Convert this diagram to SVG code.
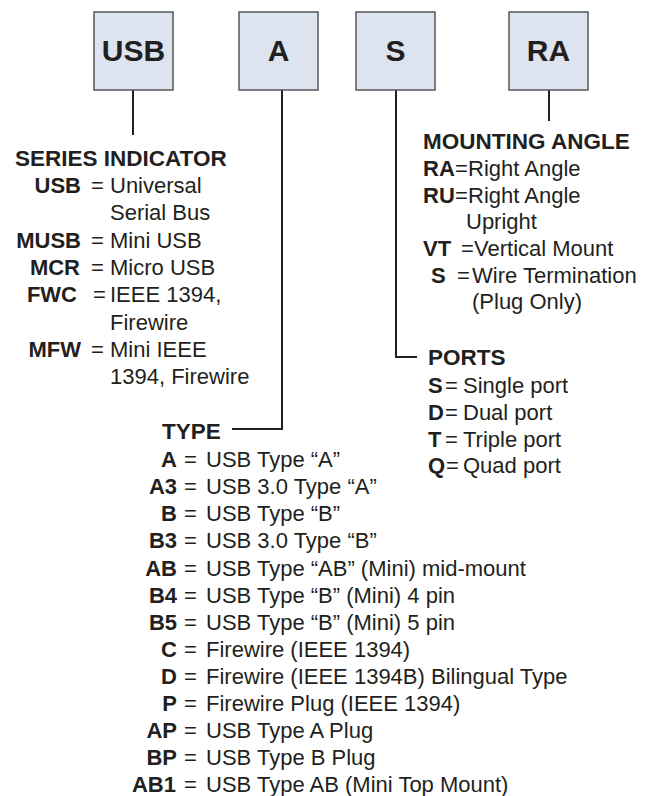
<svg xmlns="http://www.w3.org/2000/svg" width="658" height="796" viewBox="0 0 658 796">
<style>
.box{fill:#dde4ef;stroke:#555759;stroke-width:1.5}
.bt{font-family:'Liberation Sans',Arial,sans-serif;font-weight:bold;font-size:30px;fill:#231f20;text-anchor:middle}
.h{font-family:'Liberation Sans',Arial,sans-serif;font-weight:bold;font-size:22.5px;fill:#231f20}
.k{font-family:'Liberation Sans',Arial,sans-serif;font-weight:bold;font-size:22px;fill:#231f20}
.c{font-family:'Liberation Sans',Arial,sans-serif;font-weight:bold;font-size:22px;fill:#231f20;text-anchor:end}
.t{font-family:'Liberation Sans',Arial,sans-serif;font-size:22px;fill:#231f20}
.ln{stroke:#231f20;stroke-width:2;fill:none}
</style>
<rect width="658" height="796" fill="#ffffff"/>
<g id="connectors">
<path class="ln" d="M133 90V135"/>
<path class="ln" d="M282 90V429H232"/>
<path class="ln" d="M396 90V357H417"/>
<path class="ln" d="M549 90V121"/>
</g>
<g id="box-usb"><rect class="box" x="94" y="12" width="79" height="78"/><text class="bt" x="133.5" y="61">USB</text></g>
<g id="box-a"><rect class="box" x="239" y="12" width="79" height="78"/><text class="bt" x="278.5" y="61">A</text></g>
<g id="box-s"><rect class="box" x="356" y="12" width="79" height="78"/><text class="bt" x="395.5" y="61">S</text></g>
<g id="box-ra"><rect class="box" x="509" y="12" width="79" height="78"/><text class="bt" x="548.5" y="61">RA</text></g>
<g id="series-indicator">
<text class="h" x="15" y="166">SERIES INDICATOR</text>
<text class="c" x="81" y="193">USB</text><text class="t" x="91" y="193">=</text><text class="t" x="110" y="193">Universal</text>
<text class="t" x="110" y="220">Serial Bus</text>
<text class="c" x="81" y="248">MUSB</text><text class="t" x="91" y="248">=</text><text class="t" x="110" y="248">Mini USB</text>
<text class="c" x="80" y="275">MCR</text><text class="t" x="91" y="275">=</text><text class="t" x="110" y="275">Micro USB</text>
<text class="c" x="77" y="302">FWC</text><text class="t" x="93" y="302">=</text><text class="t" x="110" y="302">IEEE 1394,</text>
<text class="t" x="110" y="330">Firewire</text>
<text class="c" x="81" y="357">MFW</text><text class="t" x="91" y="357">=</text><text class="t" x="110" y="357">Mini IEEE</text>
<text class="t" x="110" y="384">1394, Firewire</text>
</g>
<g id="mounting-angle">
<text class="h" x="423" y="149">MOUNTING ANGLE</text>
<text class="k" x="423" y="176">RA</text><text class="t" x="455" y="176">=</text><text class="t" x="468" y="176">Right Angle</text>
<text class="k" x="423" y="203">RU</text><text class="t" x="455" y="203">=</text><text class="t" x="468" y="203">Right Angle</text>
<text class="t" x="466" y="229">Upright</text>
<text class="k" x="423" y="256">VT</text><text class="t" x="461" y="256">=</text><text class="t" x="474" y="256">Vertical Mount</text>
<text class="k" x="431" y="283">S</text><text class="t" x="457" y="283">=</text><text class="t" x="472" y="283">Wire Termination</text>
<text class="t" x="472" y="309">(Plug Only)</text>
</g>
<g id="ports">
<text class="h" x="428" y="365">PORTS</text>
<text class="k" x="428" y="393">S</text><text class="t" x="445" y="393">=</text><text class="t" x="463" y="393">Single port</text>
<text class="k" x="428" y="420">D</text><text class="t" x="445" y="420">=</text><text class="t" x="463" y="420">Dual port</text>
<text class="k" x="428" y="447">T</text><text class="t" x="445" y="447">=</text><text class="t" x="463" y="447">Triple port</text>
<text class="k" x="428" y="473">Q</text><text class="t" x="446" y="473">=</text><text class="t" x="463" y="473">Quad port</text>
</g>
<g id="type">
<text class="h" x="162" y="439">TYPE</text>
<text class="c" x="177" y="467">A</text><text class="t" x="184" y="467">=</text><text class="t" x="206" y="467">USB Type “A”</text>
<text class="c" x="177" y="494">A3</text><text class="t" x="184" y="494">=</text><text class="t" x="206" y="494">USB 3.0 Type “A”</text>
<text class="c" x="177" y="521">B</text><text class="t" x="184" y="521">=</text><text class="t" x="206" y="521">USB Type “B”</text>
<text class="c" x="177" y="548">B3</text><text class="t" x="184" y="548">=</text><text class="t" x="206" y="548">USB 3.0 Type “B”</text>
<text class="c" x="177" y="576">AB</text><text class="t" x="184" y="576">=</text><text class="t" x="206" y="576">USB Type “AB” (Mini) mid-mount</text>
<text class="c" x="177" y="603">B4</text><text class="t" x="184" y="603">=</text><text class="t" x="206" y="603">USB Type “B” (Mini) 4 pin</text>
<text class="c" x="177" y="630">B5</text><text class="t" x="184" y="630">=</text><text class="t" x="206" y="630">USB Type “B” (Mini) 5 pin</text>
<text class="c" x="177" y="657">C</text><text class="t" x="184" y="657">=</text><text class="t" x="206" y="657">Firewire (IEEE 1394)</text>
<text class="c" x="177" y="684">D</text><text class="t" x="184" y="684">=</text><text class="t" x="206" y="684">Firewire (IEEE 1394B) Bilingual Type</text>
<text class="c" x="177" y="711">P</text><text class="t" x="184" y="711">=</text><text class="t" x="206" y="711">Firewire Plug (IEEE 1394)</text>
<text class="c" x="177" y="738">AP</text><text class="t" x="184" y="738">=</text><text class="t" x="206" y="738">USB Type A Plug</text>
<text class="c" x="177" y="765">BP</text><text class="t" x="184" y="765">=</text><text class="t" x="206" y="765">USB Type B Plug</text>
<text class="c" x="176" y="792">AB1</text><text class="t" x="184" y="792">=</text><text class="t" x="206" y="792">USB Type AB (Mini Top Mount)</text>
</g>
</svg>
